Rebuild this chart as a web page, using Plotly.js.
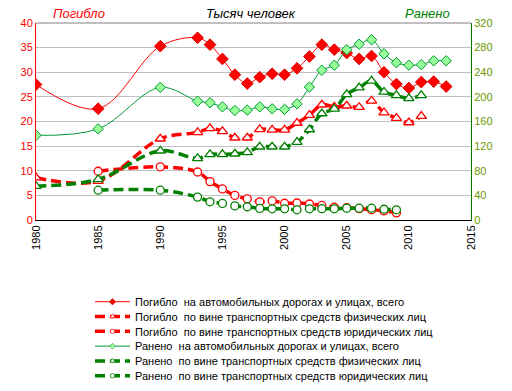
<!DOCTYPE html>
<html><head><meta charset="utf-8">
<script src="https://cdn.plot.ly/plotly-3.0.1.min.js"></script>
<style>html,body{margin:0;padding:0;background:#fff}#chart{width:512px;height:391px}</style>
</head><body><div id="chart"></div>
<script>
// Погибло на автомобильных дорогах и улицах, всего (тыс., левая ось)
var yearsTotal = [1980,1985,1990,1993,1994,1995,1996,1997,1998,1999,2000,2001,2002,2003,2004,2005,2006,2007,2008,2009,2010,2011,2012,2013];
var killedTotal = [27.5,22.6,35.3,37.0,35.6,32.7,29.5,27.7,29.0,29.7,29.5,30.8,33.2,35.6,34.6,33.9,32.7,33.3,30.0,27.6,26.8,28.0,28.1,27.1];
// Ранено, всего (тыс., правая ось)
var injuredTotal = [137.6,148,215.5,193,190.5,183.8,177.9,178.4,183.8,180.6,179.8,188.6,216,243.3,251.4,276.6,285.5,292.7,270,255.5,251.5,252.4,258.6,258.6];
// по вине транспортных средств физических лиц
var yearsPhys = [1980,1985,1990,1993,1994,1995,1996,1997,1998,1999,2000,2001,2002,2003,2004,2005,2006,2007,2008,2009,2010,2011];
var killedPhys = [8.6,7.9,16.5,17.8,18.6,18.0,16.7,16.7,18.4,18.3,18.3,19.7,21.3,23.4,23.0,23.2,22.9,24.2,21.8,20.7,19.8,21.1];
var injuredPhys = [55,66,112.5,100,106.6,106.6,107.6,110,119,119,119,126.5,147,173,180.5,204,215,226,208,202.5,197.6,202.5];
// по вине транспортных средств юридических лиц
var yearsJur = [1985,1990,1993,1994,1995,1996,1997,1998,1999,2000,2001,2002,2003,2004,2005,2006,2007,2008,2009];
var killedJur = [9.9,10.8,9.75,7.8,6.3,5.0,4.3,3.7,3.9,3.4,3.45,3.25,2.95,2.6,2.5,2.3,2.1,1.85,1.45];
var injuredJur = [48.4,48.4,37.2,29.6,26.9,22.9,21.5,18.8,18.2,18.2,16.6,18.2,18.4,18.2,19.2,19.2,19.2,17.5,16.6];

var names = [
  'Погибло\u00a0 на автомобильных дорогах и улицах, всего',
  'Погибло\u00a0 по вине транспортных средств физических лиц',
  'Погибло\u00a0 по вине транспортных средств юридических лиц',
  'Ранено\u00a0 на автомобильных дорогах и улицах, всего',
  'Ранено\u00a0 по вине транспортных средств физических лиц',
  'Ранено\u00a0 по вине транспортных средств юридических лиц'
];
var xTickVals = [1980,1985,1990,1995,2000,2005,2010,2015];

var RED='#ff0000', GREEN='#009933', DGREEN='#008000';
var dashPat='10px,5px';
var data = [
  {x:yearsTotal,y:killedTotal,name:names[0],type:'scatter',mode:'lines+markers',
   line:{color:RED,width:1,shape:'spline',smoothing:1},
   marker:{symbol:'diamond',size:9,color:RED,line:{color:'#dd0000',width:1}}},
  {x:yearsPhys,y:killedPhys,name:names[1],type:'scatter',mode:'lines+markers',
   line:{color:RED,width:3.5,dash:dashPat,shape:'spline',smoothing:1},
   marker:{symbol:'triangle-up',size:9,color:'#ffffff',line:{color:RED,width:1.3}}},
  {x:yearsJur,y:killedJur,name:names[2],type:'scatter',mode:'lines+markers',
   line:{color:RED,width:3.5,dash:dashPat,shape:'spline',smoothing:1},
   marker:{symbol:'circle',size:8,color:'#ffffff',line:{color:RED,width:1.3}}},
  {x:yearsTotal,y:injuredTotal,name:names[3],yaxis:'y2',type:'scatter',mode:'lines+markers',
   line:{color:GREEN,width:1,shape:'spline',smoothing:1},
   marker:{symbol:'diamond',size:8,color:'#99ff99',line:{color:GREEN,width:1}}},
  {x:yearsPhys,y:injuredPhys,name:names[4],yaxis:'y2',type:'scatter',mode:'lines+markers',
   line:{color:DGREEN,width:3.5,dash:dashPat,shape:'spline',smoothing:1},
   marker:{symbol:'triangle-up',size:9,color:'#ffffff',line:{color:DGREEN,width:1.3}}},
  {x:yearsJur,y:injuredJur,name:names[5],yaxis:'y2',type:'scatter',mode:'lines+markers',
   line:{color:DGREEN,width:3.5,dash:dashPat,shape:'spline',smoothing:1},
   marker:{symbol:'circle',size:8,color:'#ffffff',line:{color:DGREEN,width:1.3}}}
];

var FONT='"Liberation Sans", Arial, sans-serif';
var layout = {
  width:512, height:391,
  margin:{l:36,r:41,t:23,b:130,pad:0},
  paper_bgcolor:'#ffffff', plot_bgcolor:'#ffffff',
  font:{family:FONT,size:11,color:'#000'},
  showlegend:true,
  legend:{x:0.124,xanchor:'left',y:-0.18,yanchor:'top',bgcolor:'#ffffff',borderwidth:0,
          font:{family:FONT,size:11,color:'#000'},itemwidth:35,tracegroupgap:0},
  xaxis:{range:[1980,2015],tickvals:xTickVals,tickangle:-90,showgrid:false,zeroline:false,
         showline:true,linecolor:'#000',linewidth:1,ticks:'',tickfont:{family:FONT,size:11,color:'#000'}},
  yaxis:{range:[0,40],dtick:5,showgrid:true,gridcolor:'#c0c0c0',gridwidth:1,zeroline:false,
         showline:true,linecolor:RED,linewidth:1,ticks:'',tickfont:{family:FONT,size:11,color:RED}},
  yaxis2:{range:[0,320],dtick:40,overlaying:'y',side:'right',showgrid:false,zeroline:false,
          showline:true,linecolor:DGREEN,linewidth:1,ticks:'',tickfont:{family:FONT,size:11,color:'#6a9a00'}},
  shapes:[{type:'line',xref:'paper',yref:'paper',x0:0,x1:1,y0:1,y1:1,line:{color:'#808080',width:1}}],
  annotations:[
    {text:'Погибло',xref:'paper',yref:'paper',x:0.099,y:1.046,showarrow:false,xanchor:'center',yanchor:'middle',
     font:{family:FONT,size:13,color:RED,style:'italic'}},
    {text:'Тысяч человек',xref:'paper',yref:'paper',x:0.494,y:1.046,showarrow:false,xanchor:'center',yanchor:'middle',
     font:{family:FONT,size:13,color:'#000',style:'italic'}},
    {text:'Ранено',xref:'paper',yref:'paper',x:0.901,y:1.046,showarrow:false,xanchor:'center',yanchor:'middle',
     font:{family:FONT,size:13,color:DGREEN,style:'italic'}}
  ]
};

Plotly.newPlot('chart',data,layout,{displayModeBar:false}).then(function(gd){
  var leg = gd.querySelector('g.legend');
  if(!leg) return;
  var traces = leg.querySelectorAll('g.traces');
  var re = /translate\(\s*([-\d.e]+)[ ,]+([-\d.e]+)\s*\)/;
  var m0 = re.exec(traces[0].getAttribute('transform')||'');
  if(!m0) return;
  var x0 = parseFloat(m0[1]), y0 = parseFloat(m0[2]), dy = 14.8;
  for(var i=0;i<traces.length;i++){
    traces[i].setAttribute('transform','translate('+x0+','+(y0+i*dy)+')');
  }
  // smaller legend symbols, as in the reference
  var pts = leg.querySelectorAll('g.legendpoints path.scatterpts');
  for(var k=0;k<pts.length;k++){
    var t = pts[k].getAttribute('transform')||'';
    pts[k].setAttribute('transform', t+' scale(0.55)');
  }
  var bg = leg.querySelector('rect.bg');
  if(bg) bg.setAttribute('height', y0 + (traces.length-1)*dy + 10);
  var txt = traces[0].querySelector('text.legendtext');
  var r = txt.getBoundingClientRect();
  var croot = gd.getBoundingClientRect();
  var cy = (r.top+r.bottom)/2 - croot.top, lx = r.left - croot.left;
  var ml = re.exec(leg.getAttribute('transform')||'');
  if(ml){
    var lxT = parseFloat(ml[1]) + (135 - lx), lyT = parseFloat(ml[2]) + (302 - cy);
    leg.setAttribute('transform','translate('+lxT+','+lyT+')');
  }
});
</script></body></html>
